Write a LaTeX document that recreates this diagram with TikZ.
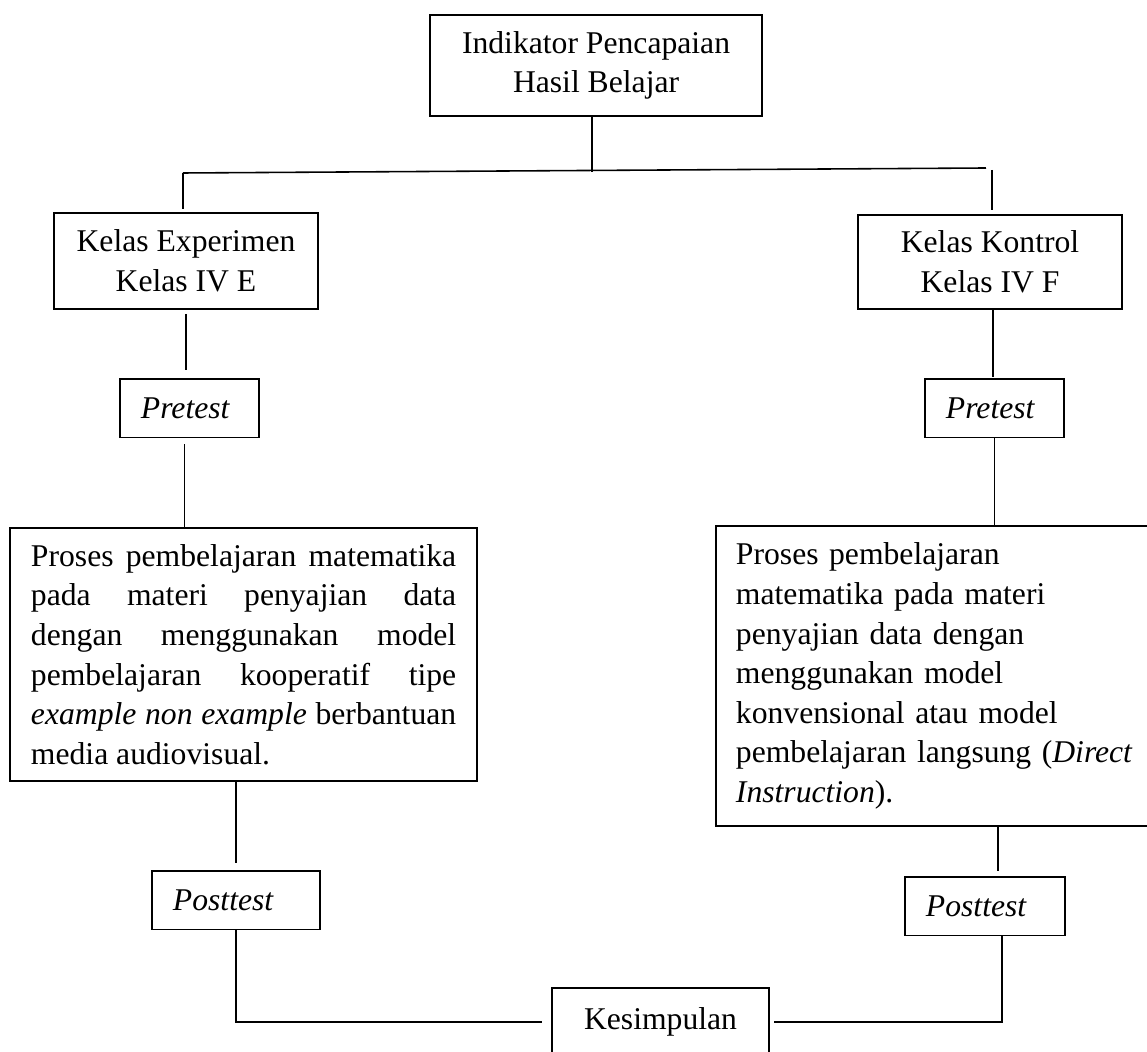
\documentclass[tikz,border=0pt]{standalone}
\usepackage{fontspec}
\setmainfont{Liberation Serif}
\usepackage{tikz}
\usetikzlibrary{positioning}
\hyphenpenalty=10000
\tolerance=9999

\begin{document}
\begin{tikzpicture}[
  x=0.01cm, y=-0.01cm,
  font=\fontsize{9}{11.25}\selectfont,
  box/.style      = {rectangle, draw, line width=0.55pt, anchor=north west,
                  inner sep=0pt, align=center},
  testbox/.style  = {rectangle, draw, line width=0.55pt, anchor=north west,
                  inner xsep=0.21cm, inner ysep=0pt, align=left,
                  minimum height=0.585cm, font=\fontsize{9}{11.25}\selectfont\itshape},
  procbox/.style  = {rectangle, draw, line width=0.55pt, anchor=north west,
                  inner xsep=0.21cm, inner ysep=0pt},
  conn/.style     = {line width=0.45pt},
]
\useasboundingbox (0,0) rectangle (1147,1052);

%% Top
\node[box, minimum width=3.32cm, minimum height=1.01cm] (ind) at (429,14)
  {Indikator Pencapaian\\Hasil Belajar};

%% Classes
\node[box, minimum width=2.64cm, minimum height=0.96cm] (kexp) at (53,212)
  {Kelas Experimen\\Kelas IV E};
\node[box, minimum width=2.64cm, minimum height=0.94cm] (kkon) at (857,214)
  {Kelas Kontrol\\Kelas IV F};

%% Pretest
\node[testbox, text width=0.97cm] (preL) at (119,378) {Pretest};
\node[testbox, text width=0.97cm] (preR) at (924,378) {Pretest};

%% Learning process
\node[procbox, text width=4.25cm, align=justify, minimum height=2.53cm] (procL) at (9,527)
  {Proses pembelajaran matematika pada materi penyajian data dengan menggunakan model
   pembelajaran kooperatif tipe \textit{example non example} berbantuan media audiovisual.};
\node[procbox, text width=4.0cm, inner xsep=0.2cm, align=left, minimum height=3.0cm] (procR) at (715,525)
  {Proses pembelajaran matematika pada materi penyajian data dengan menggunakan model
   konvensional atau model pembelajaran langsung (\textit{Direct Instruction}).};

%% Posttest
\node[testbox, text width=1.26cm] (postL) at (151,870) {Posttest};
\node[testbox, text width=1.18cm] (postR) at (904,876) {Posttest};

%% Conclusion
\node[box, minimum width=2.17cm, minimum height=0.68cm] (kes) at (551,987) {Kesimpulan};

%% Branch lines
\coordinate (j0) at (592,172);
\coordinate (jl) at (183,173);
\coordinate (jr) at (986,168);
\coordinate (jr2) at (992,170);
\draw[conn] (ind.south -| j0) -- (j0);
\draw[conn] (jl) -- (jr);
\draw[conn, shorten >=0.03cm] (jl) -- (kexp.north -| jl);
\draw[conn, shorten >=0.04cm] (jr2) -- (kkon.north -| jr2);

%% Left column
\draw[conn, shorten <=0.04cm, shorten >=0.08cm] (kexp.south) -- (preL.north -| kexp.south);
\draw[conn, shorten <=0.06cm] ([xshift=-0.05cm]preL.south) -- ([xshift=-0.05cm]preL.south |- procL.north);
\draw[conn, shorten >=0.07cm] (postL.north |- procL.south) -- (postL.north);
\draw[conn] (postL.south) |- ([xshift=-0.09cm]kes.west);

%% Right column
\draw[conn, shorten >=0.01cm] ([xshift=0.03cm]kkon.south) -- ([xshift=0.03cm]kkon.south |- preR.north);
\draw[conn] (preR.south) -- (preR.south |- procR.north);
\draw[conn, shorten >=0.05cm] ([xshift=0.13cm]postR.north |- procR.south) -- ([xshift=0.13cm]postR.north);
\draw[conn] ([xshift=0.17cm]postR.south) |- ([xshift=0.04cm]kes.east);

\end{tikzpicture}
\end{document}
